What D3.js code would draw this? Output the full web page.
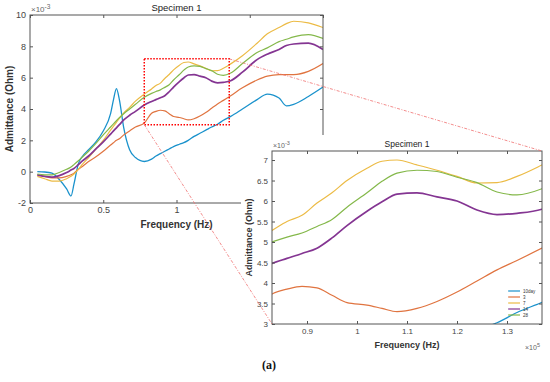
<!DOCTYPE html>
<html>
<head>
<meta charset="utf-8">
<script src="https://cdn.jsdelivr.net/npm/d3@7"></script>
<style>
body { margin: 0; background: #fff; }
text { font-family: "Liberation Sans", Arial, sans-serif; }
</style>
</head>
<body>
<div id="chart-area"></div>
<script>
// frequency (x 10^5 Hz) shared by every series, admittance in x 10^-3
var freq = [0.05, 0.1, 0.15, 0.2, 0.25, 0.28, 0.3, 0.33, 0.36, 0.4, 0.45, 0.5, 0.55, 0.57, 0.59, 0.61, 0.64, 0.68, 0.72, 0.78,
    0.83, 0.86, 0.89, 0.92, 0.95, 0.98, 1.02, 1.05, 1.08, 1.12, 1.16, 1.2, 1.24, 1.28, 1.32, 1.37, 1.45, 1.55, 1.62, 1.7, 1.75, 1.8, 1.9, 2.0];
var day10 = [0.0, -0.02, -0.1, -0.5, -1.1, -1.55, -0.8, 0.5, 1.0, 1.4, 1.9, 2.6, 3.7, 4.6, 5.3, 4.6, 2.8, 1.4, 0.9, 0.65,
    0.8, 1.0, 1.15, 1.3, 1.45, 1.6, 1.75, 1.85, 2.0, 2.25, 2.45, 2.65, 2.85, 3.03, 3.28, 3.53, 4.0, 4.6, 4.95, 4.7, 4.2, 4.3, 4.8, 5.4];
var day3 = [-0.2, -0.3, -0.4, -0.4, -0.3, -0.2, -0.1, 0.15, 0.35, 0.65, 0.95, 1.3, 1.7, 1.85, 2.0, 2.1, 2.35, 2.6, 2.85, 3.1,
    3.73, 3.85, 3.92, 3.88, 3.7, 3.52, 3.46, 3.38, 3.3, 3.38, 3.55, 3.78, 4.05, 4.32, 4.55, 4.85, 5.35, 5.85, 6.1, 6.2, 6.2, 6.2, 6.4, 6.9];
var day7 = [-0.3, -0.45, -0.6, -0.6, -0.45, -0.3, -0.15, 0.15, 0.5, 0.9, 1.45, 2.0, 2.65, 2.9, 3.15, 3.4, 3.75, 4.1, 4.5, 4.95,
    5.28, 5.5, 5.65, 5.95, 6.2, 6.5, 6.8, 6.97, 7.0, 6.88, 6.75, 6.6, 6.44, 6.45, 6.6, 6.88, 7.4, 8.2, 8.8, 9.2, 9.45, 9.6, 9.5, 9.2];
var day14 = [-0.2, -0.3, -0.35, -0.25, -0.05, 0.1, 0.2, 0.45, 0.7, 1.0, 1.45, 1.9, 2.4, 2.6, 2.8, 3.0, 3.3, 3.6, 3.85, 4.25,
    4.48, 4.6, 4.72, 4.85, 5.1, 5.4, 5.75, 5.98, 6.17, 6.2, 6.1, 6.0, 5.78, 5.67, 5.7, 5.8, 6.35, 7.15, 7.5, 7.8, 8.05, 8.15, 8.2, 7.8];
var day28 = [-0.15, -0.2, -0.2, -0.05, 0.15, 0.3, 0.45, 0.7, 0.95, 1.3, 1.8, 2.35, 2.85, 3.05, 3.25, 3.45, 3.7, 4.0, 4.3, 4.75,
    5.0, 5.12, 5.22, 5.38, 5.55, 5.85, 6.2, 6.48, 6.68, 6.75, 6.72, 6.58, 6.45, 6.22, 6.15, 6.3, 6.9, 7.6, 7.9, 8.3, 8.45, 8.6, 8.75, 8.5];

var seriesNames = ["10day", "3", "7", "14", "28"];
var seriesValues = [day10, day3, day7, day14, day28];
var seriesColors = ["#1a92cc", "#e07440", "#ecbb45", "#843592", "#84b84a"];
var seriesWidths = [1.3, 1.2, 1.2, 1.7, 1.2];

var mainXTicks = [0, 0.5, 1, 1.5, 2];
var mainYTicks = [-2, 0, 2, 4, 6, 8, 10];
var insetXTicks = [0.9, 1, 1.1, 1.2, 1.3];
var insetYTicks = [3, 3.5, 4, 4.5, 5, 5.5, 6, 6.5, 7];
var zoomX = [0.78, 1.36];
var zoomY = [3, 7.2];

var width = 550;
var height = 382;

var svg = d3.select("#chart-area")
    .append("svg")
    .attr("width", width)
    .attr("height", height);

var series = seriesNames.map(function(name, i) {
    return {
        name: name,
        color: seriesColors[i],
        width: seriesWidths[i],
        points: freq.map(function(f, j) { return [f, seriesValues[i][j]]; })
    };
});

function drawPanel(opt) {
    var x = d3.scaleLinear().domain(opt.xDomain).range([opt.left, opt.right]);
    var y = d3.scaleLinear().domain(opt.yDomain).range([opt.bottom, opt.top]);
    var g = svg.append("g");

    g.append("rect")
        .attr("x", opt.left).attr("y", opt.top)
        .attr("width", opt.right - opt.left).attr("height", opt.bottom - opt.top)
        .attr("fill", "#fff");

    g.append("clipPath").attr("id", opt.id)
        .append("rect")
        .attr("x", opt.left).attr("y", opt.top)
        .attr("width", opt.right - opt.left).attr("height", opt.bottom - opt.top);

    var line = d3.line()
        .x(function(d) { return x(d[0]); })
        .y(function(d) { return y(d[1]); })
        .curve(d3.curveMonotoneX);

    g.append("g").attr("clip-path", "url(#" + opt.id + ")")
        .selectAll("path")
        .data(series)
        .enter()
        .append("path")
        .attr("d", function(d) { return line(d.points); })
        .attr("fill", "none")
        .attr("stroke", function(d) { return d.color; })
        .attr("stroke-width", function(d) { return d.width; });

    var fmt = function(d) { return String(d); };
    var axes = [
        [d3.axisBottom(x).tickValues(opt.xTicks).tickFormat(fmt), "translate(0," + opt.bottom + ")"],
        [d3.axisTop(x).tickValues(opt.xTicks).tickFormat(""), "translate(0," + opt.top + ")"],
        [d3.axisLeft(y).tickValues(opt.yTicks).tickFormat(fmt), "translate(" + opt.left + ",0)"],
        [d3.axisRight(y).tickValues(opt.yTicks).tickFormat(""), "translate(" + opt.right + ",0)"]
    ];
    axes.forEach(function(a) {
        var ag = g.append("g")
            .attr("transform", a[1])
            .call(a[0].tickSize(-3).tickPadding(4));
        ag.select(".domain").remove();
        ag.selectAll("line").attr("stroke", "#555");
        ag.selectAll("text")
            .attr("fill", "#444")
            .style("font-size", opt.tickFont + "px")
            .style("font-family", "'Liberation Sans', Arial, sans-serif");
    });

    g.append("rect")
        .attr("x", opt.left).attr("y", opt.top)
        .attr("width", opt.right - opt.left).attr("height", opt.bottom - opt.top)
        .attr("fill", "none")
        .attr("stroke", "#555")
        .attr("stroke-width", 1);

    g.append("text")
        .attr("x", (opt.left + opt.right) / 2).attr("y", opt.top - 4)
        .attr("text-anchor", "middle")
        .attr("fill", "#222")
        .style("font-size", opt.titleFont + "px")
        .text("Specimen 1");

    var ex = g.append("text")
        .attr("x", opt.left + 1).attr("y", opt.top - 3)
        .attr("fill", "#666")
        .style("font-size", (opt.tickFont - 1) + "px");
    ex.append("tspan").text("\u00d710");
    ex.append("tspan").attr("dy", -3).style("font-size", (opt.tickFont - 2.5) + "px").text("-3");

    g.append("text")
        .attr("x", (opt.left + opt.right) / 2).attr("y", opt.bottom + opt.xLabelOffset)
        .attr("text-anchor", "middle")
        .attr("fill", "#333")
        .style("font-size", opt.labelFont + "px")
        .style("font-weight", "bold")
        .text("Frequency (Hz)");

    g.append("text")
        .attr("transform", "translate(" + (opt.left - opt.yLabelOffset) + "," + ((opt.top + opt.bottom) / 2) + ") rotate(-90)")
        .attr("text-anchor", "middle")
        .attr("fill", "#333")
        .style("font-size", opt.labelFont + "px")
        .style("font-weight", "bold")
        .text("Admittance (Ohm)");

    return { x: x, y: y, g: g };
}

var main = drawPanel({
    id: "clip-main", left: 30, right: 323, top: 15, bottom: 203,
    xDomain: [0, 2], yDomain: [-2, 10], xTicks: mainXTicks, yTicks: mainYTicks,
    tickFont: 9, titleFont: 9.5, labelFont: 10, xLabelOffset: 25, yLabelOffset: 17
});

// red dotted zoom box
svg.append("rect")
    .attr("x", main.x(zoomX[0])).attr("y", main.y(zoomY[1]))
    .attr("width", main.x(zoomX[1]) - main.x(zoomX[0]))
    .attr("height", main.y(zoomY[0]) - main.y(zoomY[1]))
    .attr("fill", "none")
    .attr("stroke", "#ff0000")
    .attr("stroke-width", 1.5)
    .attr("stroke-dasharray", "1.5,1.5");

// white area behind the inset
svg.append("rect")
    .attr("x", 241).attr("y", 135)
    .attr("width", width - 241).attr("height", height - 135)
    .attr("fill", "#fff");

var inset = drawPanel({
    id: "clip-inset", left: 272, right: 542, top: 151, bottom: 324,
    xDomain: [0.83, 1.37], yDomain: [3, 7.22], xTicks: insetXTicks, yTicks: insetYTicks,
    tickFont: 8, titleFont: 8.5, labelFont: 9, xLabelOffset: 24, yLabelOffset: 20
});

// x 10^5 label of the inset x axis
var ex5 = svg.append("text")
    .attr("x", 525).attr("y", 350)
    .attr("fill", "#666")
    .style("font-size", "7px");
ex5.append("tspan").text("\u00d710");
ex5.append("tspan").attr("dy", -3).style("font-size", "5.5px").text("5");

// connector lines from the zoom box to the inset
var connectors = [
    [[main.x(zoomX[1]), main.y(zoomY[1])], [inset.x(1.37), inset.y(7.22)]],
    [[main.x(zoomX[0]), main.y(zoomY[0])], [inset.x(0.83), inset.y(3)]]
];
svg.selectAll(".conn")
    .data(connectors)
    .enter()
    .append("line")
    .attr("class", "conn")
    .attr("x1", function(d) { return d[0][0]; })
    .attr("y1", function(d) { return d[0][1]; })
    .attr("x2", function(d) { return d[1][0]; })
    .attr("y2", function(d) { return d[1][1]; })
    .attr("stroke", "#f07070")
    .attr("stroke-width", 0.8)
    .attr("stroke-dasharray", "3,1.5,1,1.5");

// legend
var legend = svg.append("g");
legend.selectAll("line")
    .data(series)
    .enter()
    .append("line")
    .attr("x1", 508).attr("x2", 520)
    .attr("y1", function(d, i) { return 291 + i * 6; })
    .attr("y2", function(d, i) { return 291 + i * 6; })
    .attr("stroke", function(d) { return d.color; })
    .attr("stroke-width", 1.2);
legend.selectAll("text")
    .data(series)
    .enter()
    .append("text")
    .attr("x", 523)
    .attr("y", function(d, i) { return 292.5 + i * 6; })
    .attr("fill", "#333")
    .style("font-size", "4.5px")
    .text(function(d) { return d.name; });

svg.append("text")
    .attr("x", 262).attr("y", 369)
    .attr("fill", "#111")
    .style("font-family", "'Liberation Serif', 'Times New Roman', serif")
    .style("font-size", "12px")
    .style("font-weight", "bold")
    .text("(a)");
</script>
</body>
</html>
